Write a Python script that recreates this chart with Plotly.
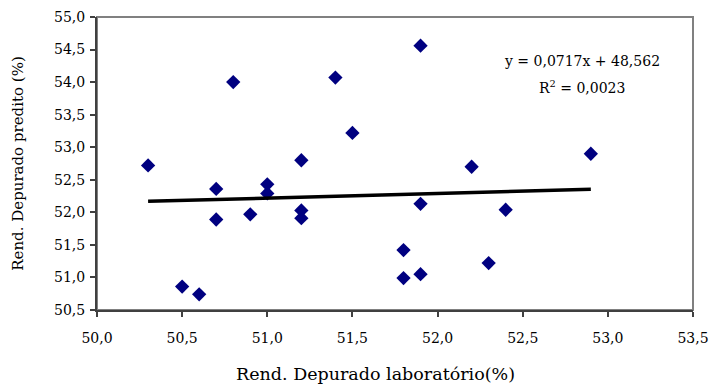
import plotly.graph_objects as go

# Data
lab = [50.3, 50.5, 50.6, 50.7, 50.7, 50.8, 50.9, 51.0, 51.0, 51.2, 51.2, 51.2,
       51.4, 51.5, 51.8, 51.8, 51.9, 51.9, 51.9, 52.2, 52.3, 52.4, 52.9]
pred = [52.72, 50.86, 50.74, 52.36, 51.89, 54.00, 51.97, 52.43, 52.29, 52.80, 52.03, 51.91,
        54.07, 53.22, 51.42, 50.99, 54.56, 52.13, 51.05, 52.70, 51.22, 52.04, 52.90]
slope = 0.0717
intercept = 48.562
eq_text = "y = 0,0717x + 48,562"
r2_text = "R<sup>2</sup> = 0,0023"
x_title = "Rend. Depurado laboratório(%)"
y_title = "Rend. Depurado predito (%)"

x_line = [min(lab), max(lab)]
y_line = [slope * v + intercept for v in x_line]

font_family = "DejaVu Serif, Liberation Serif, serif"

fig = go.Figure()
fig.add_trace(go.Scatter(
    x=lab, y=pred, mode="markers",
    marker=dict(symbol="diamond", size=11, color="#000080", line=dict(width=0)),
    showlegend=False, hoverinfo="x+y"))
fig.add_trace(go.Scatter(
    x=x_line, y=y_line, mode="lines",
    line=dict(color="black", width=3.5), showlegend=False))

fig.add_shape(type="rect", xref="paper", yref="paper", x0=0, y0=0, x1=1, y1=1,
              line=dict(color="#808080", width=2), layer="below")

fig.add_annotation(xref="x", yref="y", x=52.85, y=54.32, text=eq_text, showarrow=False,
                   font=dict(family=font_family, size=14, color="black"), xanchor="center", yanchor="middle")
fig.add_annotation(xref="x", yref="y", x=52.85, y=53.92, text=r2_text, showarrow=False,
                   font=dict(family=font_family, size=14, color="black"), xanchor="center", yanchor="middle")
fig.add_annotation(xref="paper", yref="paper", x=(375 - 97) / 596, y=-(374 - 310) / 293,
                   text=x_title, showarrow=False,
                   font=dict(family=font_family, size=17.5, color="black"),
                   xanchor="center", yanchor="middle")

fig.update_layout(
    width=713, height=388,
    margin=dict(l=97, r=20, t=17, b=78),
    paper_bgcolor="white", plot_bgcolor="white",
    separators=",.",
    font=dict(family=font_family, size=14, color="black"),
    xaxis=dict(range=[50.0, 53.5], dtick=0.5, tick0=50.0, tickformat=".1f",
               showgrid=False, zeroline=False, showline=True, linecolor="#404040", linewidth=2,
               ticks="outside", ticklen=5, tickcolor="#404040", tickwidth=1.5,
               ticklabelstandoff=9, automargin=False,
               tickfont=dict(size=14)),
    yaxis=dict(range=[50.5, 55.0], dtick=0.5, tick0=50.5, tickformat=".1f",
               showgrid=False, zeroline=False, showline=True, linecolor="#404040", linewidth=2,
               ticks="outside", ticklen=5, tickcolor="#404040", tickwidth=1.5,
               ticklabelstandoff=2, automargin=False,
               title=dict(text=y_title, font=dict(size=15), standoff=27),
               tickfont=dict(size=14)),
)

fig.write_html("out.html")
